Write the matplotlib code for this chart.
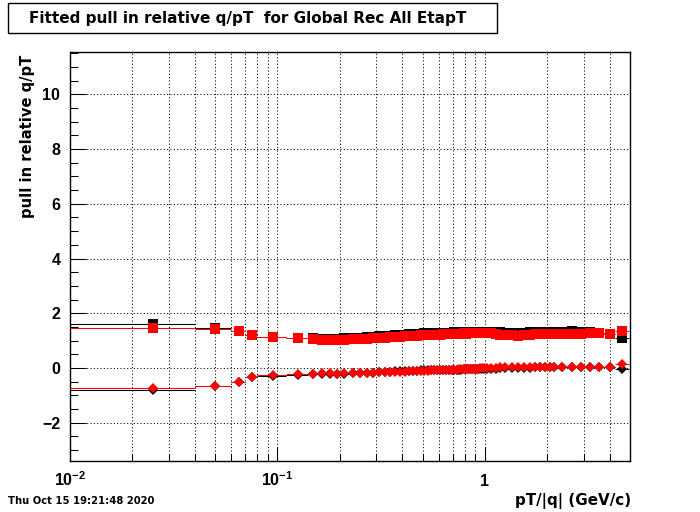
import matplotlib
matplotlib.use('Agg')
import matplotlib.pyplot as plt
import numpy as np
from matplotlib.patches import Rectangle
from matplotlib.ticker import FixedLocator, FixedFormatter, MultipleLocator, NullFormatter

plt.rcParams['font.family'] = ['Liberation Sans', 'DejaVu Sans']
plt.rcParams['font.weight'] = 'bold'
plt.rcParams['mathtext.fontset'] = 'custom'
plt.rcParams['mathtext.rm'] = 'Liberation Sans:bold'
plt.rcParams['mathtext.bf'] = 'Liberation Sans:bold'
plt.rcParams['mathtext.it'] = 'Liberation Sans:bold'
plt.rcParams['mathtext.default'] = 'rm'

# ---------------- data ----------------
bin_edges = [0.01, 0.04, 0.06, 0.07, 0.08, 0.11, 0.14, 0.157, 0.172, 0.187, 0.20,
             0.22, 0.24, 0.26, 0.28, 0.30, 0.32, 0.34, 0.36, 0.38, 0.40,
             0.42, 0.44, 0.46, 0.48, 0.50, 0.52, 0.54, 0.56, 0.58, 0.60,
             0.62, 0.64, 0.66, 0.68, 0.70, 0.72, 0.74, 0.76, 0.78, 0.80,
             0.82, 0.84, 0.86, 0.88, 0.90, 0.92, 0.94, 0.96, 0.98, 1.00,
             1.05, 1.10, 1.15, 1.20,
             1.3, 1.4, 1.5, 1.6, 1.7, 1.8, 1.9, 2.0, 2.1, 2.2,
             2.5, 2.75, 3.05, 3.35, 3.75, 4.25, 4.95]

red_squares = [1.45, 1.42, 1.34, 1.20, 1.12, 1.08, 1.06, 1.04, 1.02, 1.04,
               1.04, 1.05, 1.06, 1.07, 1.08, 1.10, 1.11, 1.12, 1.13, 1.14,
               1.16, 1.17, 1.18, 1.18, 1.19, 1.20, 1.20, 1.21, 1.22, 1.21,
               1.22, 1.23, 1.23, 1.24, 1.23, 1.24, 1.25, 1.24, 1.25, 1.26,
               1.25, 1.26, 1.26, 1.27, 1.26, 1.27, 1.27, 1.28, 1.27, 1.28,
               1.27, 1.26, 1.24, 1.22,
               1.20, 1.19, 1.18, 1.20, 1.22, 1.23, 1.23, 1.24, 1.24, 1.25,
               1.25, 1.25, 1.25, 1.26, 1.27, 1.23, 1.35]

black_squares = [1.59, 1.45, 1.35, 1.19, 1.12, 1.09, 1.08, 1.07, 1.06, 1.07,
                 1.08, 1.10, 1.11, 1.13, 1.14, 1.16, 1.17, 1.18, 1.19, 1.21,
                 1.22, 1.23, 1.24, 1.24, 1.25, 1.26, 1.26, 1.27, 1.27, 1.27,
                 1.28, 1.28, 1.29, 1.29, 1.29, 1.30, 1.30, 1.30, 1.30, 1.31,
                 1.31, 1.31, 1.31, 1.32, 1.32, 1.32, 1.32, 1.33, 1.32, 1.33,
                 1.33, 1.32, 1.31, 1.30,
                 1.29, 1.29, 1.28, 1.29, 1.30, 1.31, 1.31, 1.31, 1.32, 1.32,
                 1.33, 1.34, 1.33, 1.30, 1.28, 1.24, 1.11]

red_diamonds = [-0.74, -0.66, -0.52, -0.33, -0.27, -0.23, -0.21, -0.20, -0.20, -0.21,
                -0.20, -0.19, -0.18, -0.17, -0.17, -0.16, -0.15, -0.15, -0.14, -0.13,
                -0.13, -0.12, -0.12, -0.11, -0.11, -0.10, -0.10, -0.09, -0.09, -0.08,
                -0.08, -0.08, -0.07, -0.07, -0.06, -0.06, -0.06, -0.05, -0.05, -0.04,
                -0.04, -0.04, -0.03, -0.03, -0.02, -0.02, -0.02, -0.01, -0.01, 0.00,
                0.00, 0.01, 0.01, 0.02,
                0.02, 0.03, 0.03, 0.04, 0.04, 0.04, 0.05, 0.05, 0.05, 0.05,
                0.05, 0.05, 0.04, 0.04, 0.05, 0.05, 0.16]

black_diamonds = [-0.80, -0.67, -0.53, -0.34, -0.28, -0.24, -0.23, -0.22, -0.22, -0.22,
                  -0.21, -0.20, -0.19, -0.18, -0.17, -0.15, -0.14, -0.13, -0.12, -0.11,
                  -0.11, -0.10, -0.10, -0.10, -0.09, -0.09, -0.09, -0.09, -0.08, -0.08,
                  -0.08, -0.08, -0.08, -0.08, -0.07, -0.07, -0.07, -0.06, -0.06, -0.05,
                  -0.05, -0.05, -0.05, -0.04, -0.04, -0.04, -0.04, -0.03, -0.03, -0.03,
                  -0.03, -0.02, -0.02, -0.01,
                  -0.01, 0.00, 0.00, 0.01, 0.01, 0.02, 0.02, 0.02, 0.03, 0.03,
                  0.03, 0.03, 0.02, 0.02, 0.02, 0.02, -0.04]

x_tick_values = [0.01, 0.1, 1]
x_tick_labels = [r'$10^{-2}$', r'$10^{-1}$', '1']

title_text = 'Fitted pull in relative q/pT  for Global Rec All EtapT'
x_label = 'pT/|q| (GeV/c)'
y_label = 'pull in relative q/pT'
date_text = 'Thu Oct 15 19:21:48 2020'

# ---------------- figure ----------------
W, H = 700, 512
fig = plt.figure(figsize=(W / 100, H / 100), dpi=100)
ax = fig.add_axes([70 / W, 1 - 460.7 / H, 560 / W, (460.7 - 51.7) / H])

edges = np.array(bin_edges)
lo, hi = edges[:-1], edges[1:]
xc = 0.5 * (lo + hi)
xerr = [xc - lo, hi - xc]

lw = 0.75
series = [
    (black_squares, 'black', 's', 7.2),
    (black_diamonds, 'black', 'D', 5.4),
    (red_squares, 'red', 's', 7.2),
    (red_diamonds, 'red', 'D', 5.4),
]
for yv, col, mk, ms in series:
    ax.errorbar(xc, yv, xerr=xerr, fmt=mk, color=col, ecolor=col,
                elinewidth=lw, capsize=0, markersize=ms, markeredgewidth=0,
                zorder=3)

ax.set_xscale('log')
ax.set_xlim(0.01, 5)
ax.set_ylim(-3.39, 11.56)

ax.xaxis.set_major_locator(FixedLocator(x_tick_values))
ax.xaxis.set_major_formatter(FixedFormatter(x_tick_labels))
minor = [m * d for d in (0.01, 0.1, 1) for m in range(2, 10) if m * d < 5.01]
ax.xaxis.set_minor_locator(FixedLocator(minor))
ax.xaxis.set_minor_formatter(NullFormatter())
ax.yaxis.set_major_locator(MultipleLocator(2))
ax.yaxis.set_minor_locator(MultipleLocator(0.5))

ax.tick_params(axis='x', which='major', direction='in', length=10, width=lw,
               labelsize=11.5, pad=18, top=False)
ax.tick_params(axis='x', which='minor', direction='in', length=5, width=lw, top=False)
ax.tick_params(axis='y', which='major', direction='in', length=11.5, width=lw,
               labelsize=11.5, pad=7, right=False)
ax.tick_params(axis='y', which='minor', direction='in', length=5.8, width=lw, right=False)
for lbl in ax.get_xticklabels():
    lbl.set_verticalalignment('baseline')
    lbl.set_fontweight('bold')
for lbl in ax.get_yticklabels():
    lbl.set_fontweight('bold')

dots = (0, (1, 2.2))
ax.grid(True, which='both', axis='x', linestyle=dots, color='black', linewidth=lw)
ax.grid(True, which='major', axis='y', linestyle=dots, color='black', linewidth=lw)
ax.set_axisbelow(True)
for sp in ax.spines.values():
    sp.set_linewidth(1.0)

wide = ['DejaVu Sans']

# title box
fig.patches.append(Rectangle((7.5 / W, 1 - 32.5 / H), (497.5 - 7.5) / W, (32.5 - 2.8) / H,
                             transform=fig.transFigure, fill=True, facecolor='white',
                             edgecolor='black', linewidth=1.0))
fig.text(29.3 / W, 1 - 23.0 / H, title_text, ha='left', va='baseline',
         fontsize=11.0, fontweight='bold', family=wide)

fig.text(28 / W, 1 - 55 / H, y_label, rotation=90, ha='center', va='top',
         fontsize=10.6, fontweight='bold', family=wide)
fig.text(631.5 / W, 1 - 505 / H, x_label, ha='right', va='baseline',
         fontsize=10.9, fontweight='bold', family=wide)
fig.text(7.5 / W, 1 - 504 / H, date_text, ha='left', va='baseline',
         fontsize=7.2, fontweight='bold', family=wide)

fig.savefig('out.png', dpi=100, facecolor='white')
